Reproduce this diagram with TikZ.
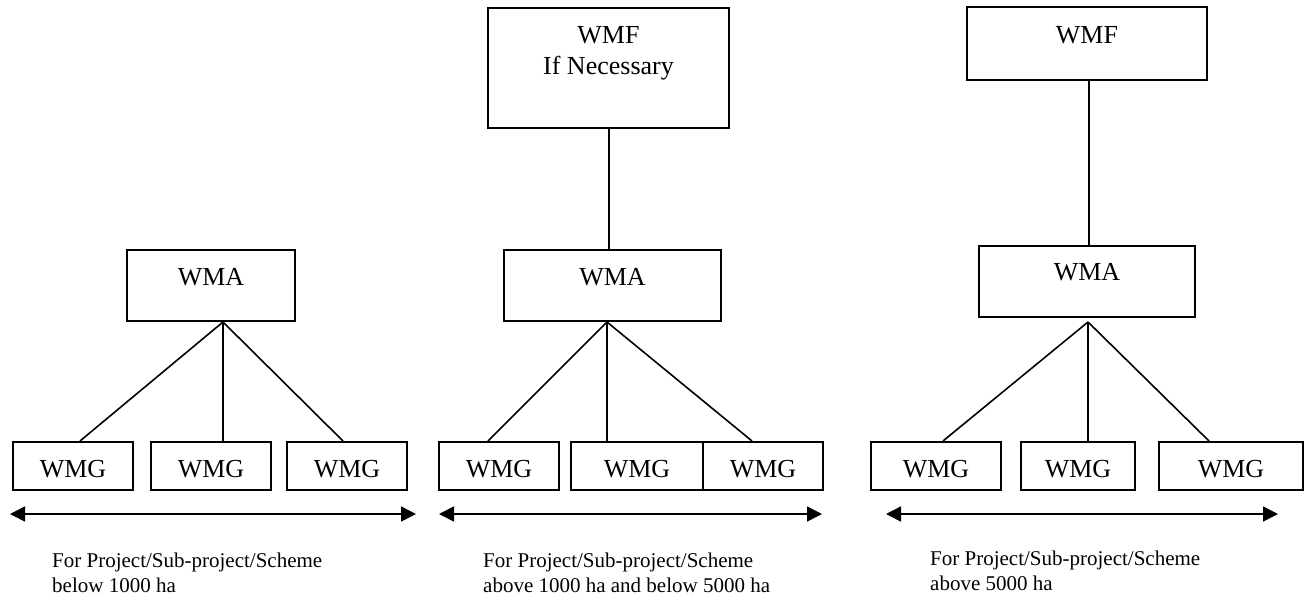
\documentclass[tikz,border=0pt]{standalone}
\usepackage{fontspec}
\setmainfont{Liberation Serif}
\usetikzlibrary{arrows.meta}
\begin{document}
\begin{tikzpicture}[x=1pt,y=-1pt,
  box/.style={draw,line width=2pt,inner sep=0pt,font=\fontsize{26}{31}\selectfont},
  wmg/.style={box,text height=35pt,text depth=13pt},
  link/.style={line width=1.6pt},
  span/.style={line width=1.6pt,{Triangle[length=15pt,width=15pt]}-{Triangle[length=15pt,width=15pt]}},
  caption/.style={anchor=base west,align=left,inner sep=0pt,font=\fontsize{21}{25}\selectfont}]
\useasboundingbox (0,0) rectangle (1310,603);

% ---------- panel 1 ----------
\node[box,minimum width=168pt,text height=35pt,text depth=36pt] (a1) at (211,285.5) {WMA};
\node[wmg,minimum width=120pt] (g11) at (73,466) {WMG};
\node[wmg,minimum width=120pt] (g12) at (211,466) {WMG};
\node[wmg,minimum width=120pt] (g13) at (347,466) {WMG};
\draw[link] ([xshift=12pt]a1.south) -- ([xshift=7pt]g11.north);
\draw[link] ([xshift=12pt]a1.south) -- ([xshift=12pt]g12.north);
\draw[link] ([xshift=12pt]a1.south) -- ([xshift=-4pt]g13.north);
\coordinate (l1) at (10,514);
\coordinate (r1) at (416,514);
\draw[span] (l1) -- (r1);
\node[caption] (c1) at (52,592) {For Project/Sub-project/Scheme\\below 1000 ha};

% ---------- panel 2 ----------
\node[box,align=center,minimum width=241pt,text height=66pt,text depth=54pt] (f2) at (608.5,68) {WMF\\If Necessary};
\node[box,minimum width=217pt,text height=35pt,text depth=36pt] (a2) at (612.5,285.5) {WMA};
\node[wmg,minimum width=120pt] (g21) at (499,466) {WMG};
\node[wmg,minimum width=132pt] (g22) at (637,466) {WMG};
\node[wmg,minimum width=120pt] (g23) at (763,466) {WMG};
\draw[link] ([xshift=0.5pt]f2.south) -- ([xshift=0.5pt]f2.south |- a2.north);
\draw[link] ([xshift=-5.5pt]a2.south) -- ([xshift=-11pt]g21.north);
\draw[link] ([xshift=-5.5pt]a2.south) -- ([xshift=-30pt]g22.north);
\draw[link] ([xshift=-5.5pt]a2.south) -- ([xshift=-11pt]g23.north);
\coordinate (l2) at (439,514);
\coordinate (r2) at (822,514);
\draw[span] (l2) -- (r2);
\node[caption] (c2) at (483,592) {For Project/Sub-project/Scheme\\above 1000 ha and below 5000 ha};

% ---------- panel 3 ----------
\node[box,minimum width=240pt,text height=36pt,text depth=37pt] (f3) at (1087,43.5) {WMF};
\node[box,minimum width=216pt,text height=34pt,text depth=37pt] (a3) at (1087,281.5) {WMA};
\node[wmg,minimum width=130pt] (g31) at (936,466) {WMG};
\node[wmg,minimum width=114pt] (g32) at (1078,466) {WMG};
\node[wmg,minimum width=144pt] (g33) at (1231,466) {WMG};
\draw[link] ([xshift=2pt]f3.south) -- ([xshift=2pt]a3.north);
\draw[link] ([xshift=1pt,yshift=-4pt]a3.south) -- ([xshift=7pt]g31.north);
\draw[link] ([xshift=1pt,yshift=-4pt]a3.south) -- ([xshift=10pt]g32.north);
\draw[link] ([xshift=1pt,yshift=-4pt]a3.south) -- ([xshift=-22pt]g33.north);
\coordinate (l3) at (886,514);
\coordinate (r3) at (1278,514);
\draw[span] (l3) -- (r3);
\node[caption] (c3) at (930,590) {For Project/Sub-project/Scheme\\above 5000 ha};
\end{tikzpicture}
\end{document}
